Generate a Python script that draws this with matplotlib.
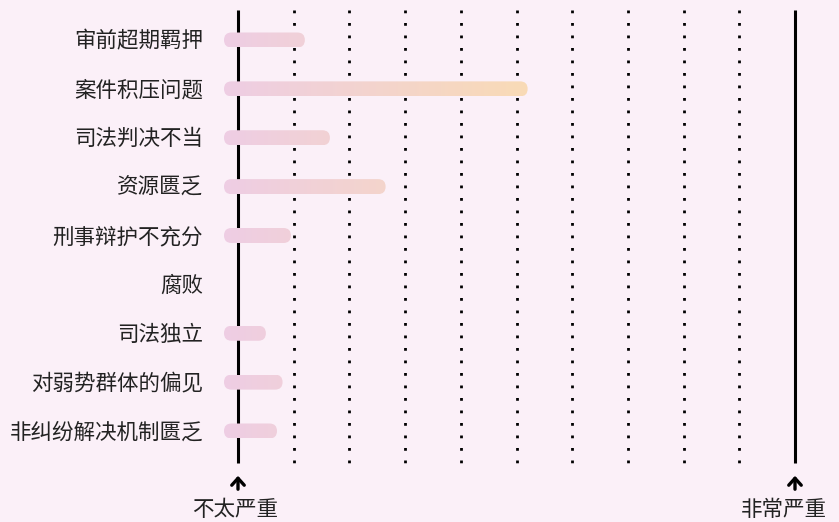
import numpy as np
import matplotlib.pyplot as plt
from matplotlib.patches import FancyBboxPatch
from matplotlib.colors import LinearSegmentedColormap

plt.rcParams['font.family'] = ['Noto Sans CJK SC', 'DejaVu Sans']

categories = ['审前超期羁押', '案件积压问题', '司法判决不当', '资源匮乏', '刑事辩护不充分',
              '腐败', '司法独立', '对弱势群体的偏见', '非纠纷解决机制匮乏']
# severity on a 0-10 scale (0 = 不太严重, 10 = 非常严重)
scores = [1.2, 5.2, 1.65, 2.65, 0.95, 0, 0.5, 0.8, 0.7]
end_labels = ['不太严重', '非常严重']

bg = '#fbf0f8'
cmap = LinearSegmentedColormap.from_list('bar', ['#eecde4', '#f9dbb6'])

fig = plt.figure(figsize=(8.39, 5.22), dpi=100, facecolor=bg)
ax = fig.add_axes([0, 0, 1, 1])
ax.set_facecolor(bg)

# pixel -> data mapping helpers
xpx = 10 / 557.0
ypx = 1 / 48.875
x0, y0 = 238, 40
xmin, xmax = (0 - x0) * xpx, (839 - x0) * xpx
ymin, ymax = (0 - y0) * ypx, (522 - y0) * ypx

ytop, ybot = (10 - y0) * ypx, (463 - y0) * ypx
for v in range(1, 10):
    ax.plot([v, v], [ytop, ybot], color='black', lw=2.0,
            linestyle=(0, (1, 3.5)), zorder=1)
for v in (0, 10):
    ax.plot([v, v], [ytop, ybot], color='black', lw=2.2,
            solid_capstyle='butt', zorder=1)

start = -14 * xpx
gmax = max(scores)
grad = np.linspace(0, 1, 256).reshape(1, -1)
h = 15 * ypx
aspect = ypx / xpx
for i, s in enumerate(scores):
    if s <= 0:
        continue
    patch = FancyBboxPatch((start, i - h / 2), s - start, h,
                           boxstyle='round,pad=0,rounding_size=%f' % (7.5 * xpx),
                           mutation_aspect=aspect,
                           facecolor='none', edgecolor='none', zorder=3)
    ax.add_patch(patch)
    im = ax.imshow(grad, cmap=cmap, aspect='auto', zorder=3,
                   extent=(start, gmax, i + h / 2, i - h / 2))
    im.set_clip_path(patch)

for i, c in enumerate(categories):
    ax.text((203 - x0) * xpx, i + 1.5 * ypx, c, ha='right', va='center',
            fontsize=15.5, color='#222222')

for v, lab, off in zip((0, 10), end_labels, (-3, -11)):
    ax.annotate('', xy=(v, (473 - y0) * ypx), xytext=(v, (492 - y0) * ypx),
                arrowprops=dict(arrowstyle='->,head_width=0.45,head_length=0.5',
                                lw=2.4, color='black'))
    ax.text(v + off * xpx, (510 - y0) * ypx, lab, ha='center', va='center',
            fontsize=15.5, color='#222222')

ax.set_xlim(xmin, xmax)
ax.set_ylim(ymax, ymin)
ax.axis('off')

fig.savefig('out.png', dpi=100, facecolor=bg)
